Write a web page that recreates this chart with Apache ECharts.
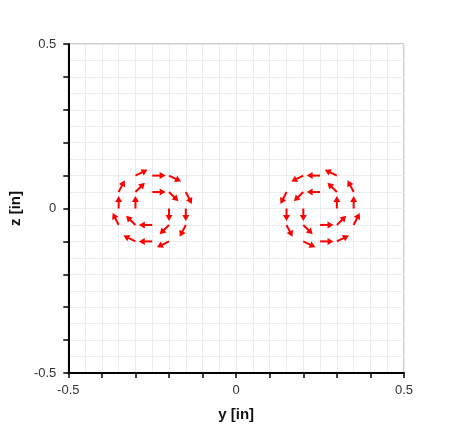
<!DOCTYPE html>
<html>
<head>
<meta charset="utf-8">
<script src="https://cdn.jsdelivr.net/npm/echarts@6/dist/echarts.min.js"></script>
<style>
  html, body { margin: 0; padding: 0; background: #fff; }
  #chart { width: 450px; height: 440px; }
</style>
</head>
<body>
<div id="chart"></div>
<script>
// arrow tails (y, z) and vector components (u, v), in inches
var arrowY = [
  -0.30, -0.25, -0.20,
  -0.35, -0.30, -0.25, -0.20, -0.15,
  -0.35, -0.30, -0.20, -0.15,
  -0.35, -0.30, -0.25, -0.20, -0.15,
  -0.30, -0.25, -0.20,
  0.30, 0.25, 0.20,
  0.35, 0.30, 0.25, 0.20, 0.15,
  0.35, 0.30, 0.20, 0.15,
  0.35, 0.30, 0.25, 0.20, 0.15,
  0.30, 0.25, 0.20
]
var arrowZ = [
  0.10, 0.10, 0.10,
  0.05, 0.05, 0.05, 0.05, 0.05,
  0, 0, 0, 0,
  -0.05, -0.05, -0.05, -0.05, -0.05,
  -0.10, -0.10, -0.10,
  0.10, 0.10, 0.10,
  0.05, 0.05, 0.05, 0.05, 0.05,
  0, 0, 0, 0,
  -0.05, -0.05, -0.05, -0.05, -0.05,
  -0.10, -0.10, -0.10
]
var arrowU = [
  0.036, 0.040, 0.036,
  0.018, 0.028, 0.040, 0.028, 0.018,
  0, 0, 0, 0,
  -0.018, -0.028, -0.040, -0.028, -0.018,
  -0.036, -0.040, -0.036,
  -0.036, -0.040, -0.036,
  -0.018, -0.028, -0.040, -0.028, -0.018,
  0, 0, 0, 0,
  0.018, 0.028, 0.040, 0.028, 0.018,
  0.036, 0.040, 0.036
]
var arrowV = [
  0.018, 0, -0.018,
  0.036, 0.028, 0, -0.028, -0.036,
  0.038, 0.038, -0.038, -0.038,
  0.036, 0.028, 0, -0.028, -0.036,
  0.018, 0, -0.018,
  0.018, 0, -0.018,
  0.036, 0.028, 0, -0.028, -0.036,
  0.038, 0.038, -0.038, -0.038,
  0.036, 0.028, 0, -0.028, -0.036,
  0.018, 0, -0.018
]
var tickLabels = { '-0.5': '-0.5', '0': '0', '0.5': '0.5' }

var arrowData = arrowY.map(function (y, i) {
  return [y, arrowZ[i], arrowU[i], arrowV[i]]
})

function labelFmt(val) {
  var key = String(Math.round(val * 10) / 10)
  return tickLabels[key] !== undefined ? tickLabels[key] : ''
}

// draws one arrow: shaft + filled head
function renderArrow(params, api) {
  var p0 = api.coord([api.value(0), api.value(1)])
  var p1 = api.coord([api.value(0) + api.value(2), api.value(1) + api.value(3)])
  var ang = Math.atan2(p1[1] - p0[1], p1[0] - p0[0])
  var hl = 6, hw = 3.5
  var c = Math.cos(ang), s = Math.sin(ang)
  var bx = p1[0] - hl * c, by = p1[1] - hl * s
  return {
    type: 'group',
    children: [
      {
        type: 'line',
        shape: { x1: p0[0], y1: p0[1], x2: bx + c, y2: by + s },
        style: { stroke: '#ff0000', lineWidth: 2 }
      },
      {
        type: 'polygon',
        shape: { points: [[p1[0], p1[1]], [bx - hw * s, by + hw * c], [bx + hw * s, by - hw * c]] },
        style: { fill: '#ff0000' }
      }
    ]
  }
}

var axisCommon = {
  min: -0.5,
  max: 0.5,
  interval: 0.1,
  nameLocation: 'middle',
  nameTextStyle: { fontSize: 15, fontWeight: 'bold', color: '#111', fontFamily: 'Liberation Sans, Arial, sans-serif' },
  axisLine: { show: true, onZero: false, lineStyle: { color: '#000', width: 2 } },
  axisTick: { show: true, inside: false, length: 5, lineStyle: { color: '#000', width: 1.5 } },
  axisLabel: { formatter: labelFmt, fontSize: 13, color: '#333', fontFamily: 'Liberation Sans, Arial, sans-serif', showMinLabel: true, showMaxLabel: true },
  splitLine: { show: true, lineStyle: { color: '#ececec', width: 1 } },
  minorTick: { show: false, splitNumber: 2 },
  minorSplitLine: { show: true, lineStyle: { color: '#ececec', width: 1 } }
}

var chart = echarts.init(document.getElementById('chart'))
chart.setOption({
  animation: false,
  grid: {
    left: 68, right: 46, top: 44, bottom: 67,
    show: true, borderColor: '#999', borderWidth: 1, backgroundColor: '#fff'
  },
  xAxis: Object.assign({}, axisCommon, {
    type: 'value',
    name: 'y [in]',
    nameGap: 34,
    axisLabel: Object.assign({}, axisCommon.axisLabel, { margin: 11 })
  }),
  yAxis: Object.assign({}, axisCommon, {
    type: 'value',
    name: 'z [in]',
    nameGap: 42,
    axisLabel: Object.assign({}, axisCommon.axisLabel, { margin: 12 })
  }),
  series: [{
    type: 'custom',
    renderItem: renderArrow,
    encode: { x: 0, y: 1 },
    data: arrowData,
    clip: true,
    silent: true
  }]
})
</script>
</body>
</html>
